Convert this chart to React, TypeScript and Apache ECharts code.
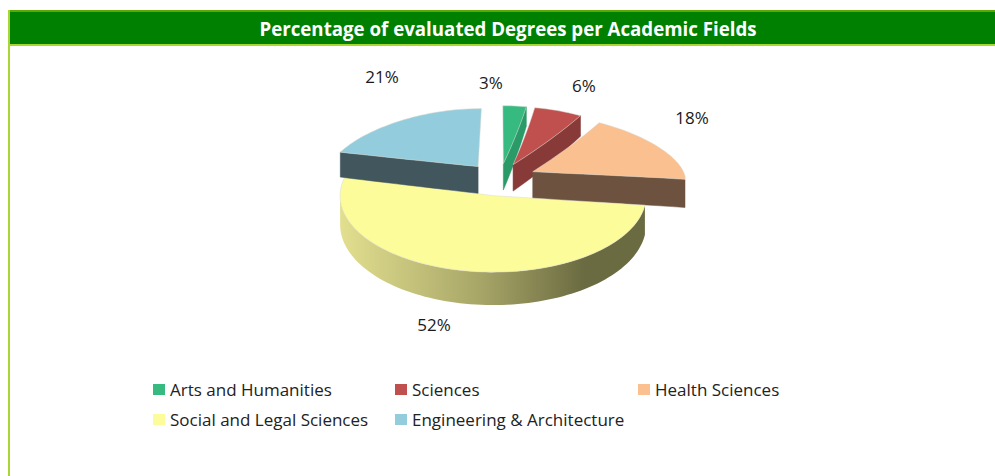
import React, { useEffect, useRef } from "react";
import * as echarts from "echarts";

const categories = ["Arts and Humanities", "Sciences", "Health Sciences", "Social and Legal Sciences", "Engineering & Architecture"];
const values = [3, 6, 18, 52, 21];
const titleText = "Percentage of evaluated Degrees per Academic Fields";

const topColors = ["#36ba80", "#c0504d", "#fac090", "#fdfc9a", "#93cddd"];
const wallColors = ["#2a9a68", "#873a38", "#6d5240", "#a9a768", "#41565d"];
const labelAnchors = [[491, 82], [584, 85], [692, 117], [434, 324], [382, 76]];
const legendAnchors = [[153, 381], [395, 381], [638, 381], [153, 411], [395, 411]];

const CX = 500, CY = 177.6, A = 153, EXPLODE = 0.24;
const FONT = '"Open Sans", sans-serif';
const total = values.reduce((s, v) => s + v, 0);
const RAD = Math.PI / 180;

function projectDisc(u: number, v: number) {
  const s = v < 0 ? 1 + 0.147 * v : 1;
  return [CX + A * u * s, CY + (v < 0 ? 58 : 76.5) * v];
}
function depth(v: number) {
  return 28 + v * (v < 0 ? 7 : 4);
}

function buildSlice(i: number) {
  const before = values.slice(0, i).reduce((s, v) => s + v, 0);
  const start = (before / total) * 360;
  const end = ((before + values[i]) / total) * 360;
  const mid = (start + end) / 2;
  const du = Math.sin(mid * RAD) * EXPLODE;
  const dv = -Math.cos(mid * RAD) * EXPLODE;
  const disc = (deg: number, r: number) => [du + r * Math.sin(deg * RAD), dv - r * Math.cos(deg * RAD)];
  const top = (deg: number, r: number) => {
    const [u, v] = disc(deg, r);
    return projectDisc(u, v);
  };
  const bot = (deg: number, r: number) => {
    const [u, v] = disc(deg, r);
    const p = projectDisc(u, v);
    return [p[0], p[1] + depth(v)];
  };
  const radial = (deg: number, at: (d: number, r: number) => number[]) => {
    const pts: number[][] = [];
    for (let k = 0; k <= 12; k++) pts.push(at(deg, k / 12));
    return pts;
  };
  const arcPts = (a0: number, a1: number, at: (d: number, r: number) => number[]) => {
    const pts: number[][] = [];
    const n = Math.max(2, Math.ceil(Math.abs(a1 - a0) / 2));
    for (let k = 0; k <= n; k++) pts.push(at(a0 + ((a1 - a0) * k) / n, 1));
    return pts;
  };
  const wall = (deg: number, color: string) => ({
    type: "polygon",
    shape: { points: [...radial(deg, top), ...radial(deg, bot).reverse()] },
    style: { fill: color, stroke: color, lineWidth: 0.5 },
  });

  const children: any[] = [];
  if (Math.sin(start * RAD) < -0.01) children.push(wall(start, wallColors[i]));
  if (Math.sin(end * RAD) > 0.01) children.push(wall(end, wallColors[i]));
  const a0 = Math.max(start, 90);
  const a1 = Math.min(end, 270);
  if (a1 - a0 > 30) {
    children.push({
      type: "polygon",
      shape: { points: [...arcPts(a0, a1, top), ...arcPts(a1, a0, bot)] },
      style: {
        fill: {
          type: "linear", x: 1, y: 0, x2: 0, y2: 0,
          colorStops: [
            { offset: 0, color: "#6b6b42" },
            { offset: 0.2, color: "#6b6b42" },
            { offset: 0.55, color: "#a9a768" },
            { offset: 1, color: "#e2df90" },
          ],
        },
      },
    });
  }
  children.push({
    type: "polygon",
    shape: { points: [...radial(start, top), ...arcPts(start, end, top), ...radial(end, top).reverse()] },
    style: { fill: topColors[i], stroke: "#d8d8d0", lineWidth: 0.5 },
  });
  children.push({
    type: "text",
    x: labelAnchors[i][0],
    y: labelAnchors[i][1],
    style: { text: `${values[i]}%`, align: "center", verticalAlign: "middle", fill: "#1a1a1a", font: `17px ${FONT}` },
  });
  return { type: "group", children };
}

export default function App() {
  const ref = useRef<HTMLDivElement>(null);
  useEffect(() => {
    const chart = echarts.init(ref.current!, null, { renderer: "svg" });
    chart.setOption({
      animation: false,
      backgroundColor: "#ffffff",
      title: {
        text: titleText,
        left: 503,
        top: 14,
        textAlign: "center",
        textStyle: { color: "#ffffff", fontFamily: FONT, fontWeight: "bold", fontSize: 18.7 },
      },
      graphic: [
        { type: "rect", z: -1, shape: { x: 8, y: 10, width: 987, height: 36 }, style: { fill: "#008000" } },
        { type: "rect", z: -1, shape: { x: 8, y: 10, width: 987, height: 2 }, style: { fill: "#5aaa00" } },
        { type: "rect", z: -1, shape: { x: 8, y: 44, width: 987, height: 2 }, style: { fill: "#a8d632" } },
        { type: "rect", z: -1, shape: { x: 8, y: 10, width: 2, height: 466 }, style: { fill: "#a8d632" } },
      ],
      legend: categories.map((name, i) => ({
        data: [name],
        left: legendAnchors[i][0],
        top: legendAnchors[i][1],
        padding: 0,
        itemWidth: 12,
        itemHeight: 11,
        itemGap: 0,
        icon: "rect",
        textStyle: { color: "#222222", fontFamily: FONT, fontSize: 17, padding: [0, 0, 0, 0] },
      })),
      series: categories.map((name, i) => ({
        type: "custom",
        name,
        coordinateSystem: "none",
        itemStyle: { color: topColors[i] },
        data: [values[i]],
        renderItem: () => buildSlice(i),
      })),
    });
    return () => chart.dispose();
  }, []);
  return <div ref={ref} style={{ position: "absolute", left: 0, top: 0, width: 995, height: 476 }} />;
}
